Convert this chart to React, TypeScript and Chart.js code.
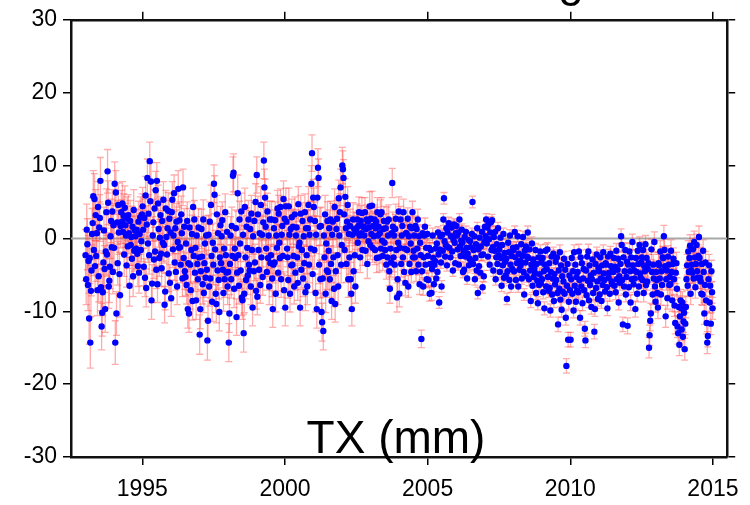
import React, { useEffect, useRef } from 'react';
import { Chart, registerables } from 'chart.js';

Chart.register(...registerables);

// Sample years; each year holds 48 samples, evenly spaced through the year
const YEARS = [1993, 1994, 1995, 1996, 1997, 1998, 1999, 2000, 2001, 2002, 2003, 2004, 2005, 2006, 2007, 2008, 2009, 2010, 2011, 2012, 2013, 2014];
const X_TICKS = [1995, 2000, 2005, 2010, 2015];
const Y_TICKS = [-30, -20, -10, 0, 10, 20, 30];
const TITLE = 'TX (mm)';

// TX values (mm) per year
const v1993 = [-2.3, -5.6, 1.2, -0.8, -6.4, -3.1, -11.0, -2.7, -14.3, -7.2, -4.4, 0.6, 2.1, 5.8, -1.6, 5.4, -3.8, 3.2, -2.4, 0.7, -7.1, 4.3, -5.2, 1.5, 2.8, 7.9, -6.7, -12.1, -10.2, -7.4, -3.3, 1.1, -4.2, -9.7, -1.8, 3.6, -2.2, 9.2, 4.9, -6.6, -5.8, -3.9, 0.3, 2.4, -1.2, 3.7, -4.6, 1.8];
const v1994 = [-1.3, 7.5, -14.3, 6.3, -10.3, 2.2, -3.4, 4.6, 0.8, -4.9, -7.8, 1.7, 3.6, 2.3, 4.8, 0.9, 3.1, -2.2, 4.2, 1.8, 0.4, -3.7, 2.7, -1.1, 3.2, 0.7, -6.5, 2.4, -0.9, 0.2, -2.8, 1.6, -5.2, 3.9, -1.7, 1.1, 0.3, -1.4, 1.2, -2.1, -3.8, 2.3, -4.7, 0.6, 2.9, -1.6, -0.4, 3.3];
const v1995 = [4.4, 1.2, -3.9, 2.8, -5.4, 5.9, -6.8, 1.9, 8.3, -0.7, 3.4, -2.3, 10.6, 5.1, 7.8, -8.5, -6.2, 0.4, 2.2, -2.9, 4.1, -1.8, 6.6, -4.3, 7.9, -6.3, 4.8, 1.3, -2.7, 0.1, 3.2, -2.1, -4.1, 2.4, -0.6, 5.3, -0.9, -9.1, -7.3, 4.1, 0.2, -2.2, 1.4, 3.8, -4.8, 2.7, -6.1, 0.8];
const v1996 = [-8.2, 3.6, 5.3, -1.5, 0.4, 6.2, -3.3, 1.4, -4.6, 2.3, -6.6, -0.5, 6.8, -1.3, 2.5, -1.2, -3.6, 3.3, 0.7, -5.5, 7.0, -2.7, 1.6, -4.5, -5.3, -0.7, -6.4, 2.4, -9.7, -3.4, -10.3, 1.5, -3.6, -7.1, -1.6, 0.6, -8.6, 4.3, -2.4, 2.6, -4.7, -1.3, -8.5, 0.4, -3.5, -5.6, 1.5, -2.6];
const v1997 = [-13.2, -9.7, -4.5, 1.3, -2.5, -6.3, 2.6, -7.5, -3.4, -0.7, -5.4, 0.4, -4.3, -14.0, -11.3, 0.5, -6.6, 2.3, -5.5, 4.6, -2.4, -8.7, -0.6, -3.6, 7.5, 6.0, -1.5, -7.6, -9.0, 3.3, -4.4, 0.7, -5.7, -10.1, -2.6, 1.8, -3.4, 0.3, 2.5, -4.3, -7.5, -1.4, -5.6, 3.6, -2.3, -4.7, 0.9, -6.6];
const v1998 = [-4.6, -14.3, -10.3, -3.5, 0.4, -5.6, 1.7, -2.4, 8.6, 9.0, -6.9, -1.4, -2.7, 1.4, -10.8, -4.7, 6.2, -2.3, -6.5, 2.6, -0.7, -4.4, 3.7, -8.1, -8.5, 0.5, -13.0, -7.6, 4.3, -2.6, -5.7, 1.6, -1.3, -5.1, 2.6, -3.6, -4.4, 1.3, -6.6, 3.4, -1.6, -9.5, 0.3, -4.5, 2.4, -3.3, 5.0, -7.2];
const v1999 = [8.7, -8.0, 3.3, -1.6, -4.3, 0.7, -6.4, 4.6, -2.6, 0.5, -5.3, 2.2, 10.7, 7.0, 5.6, 1.6, -1.4, -4.6, 3.7, -2.7, 0.4, -6.6, 2.6, -3.4, -2.3, 2.6, -5.5, -9.7, -3.6, 1.4, -3.3, 2.5, -7.6, 0.4, -1.3, 4.1, -4.7, 3.4, -0.6, -2.7, 4.3, -5.6, 0.5, 1.7, -2.4, 5.4, -7.1, 2.7];
const v2000 = [-9.5, 4.4, 2.3, -1.4, -2.6, -5.7, 4.4, 0.5, -7.6, 1.3, -3.7, 2.9, -3.6, 1.6, -2.4, -6.6, 3.3, -4.7, 0.4, 1.5, -2.6, -6.1, 4.7, -1.1, -0.6, -9.5, 3.4, -4.3, -1.6, 2.4, -5.5, 0.3, -3.4, 3.6, -7.4, 1.4, -2.3, -6.6, 1.4, 4.6, -3.6, 0.5, 2.6, -1.4, 7.5, 11.7, -4.9, 5.6];
const v2001 = [4.3, -1.6, 2.4, -7.5, 0.5, -9.7, 5.6, 9.7, 8.3, -3.6, 1.6, -5.6, 1.7, -10.1, -11.5, -5.5, -12.7, 0.4, -2.6, 3.3, -7.6, -0.7, -4.4, 2.4, -4.6, -1.7, 1.4, -5.6, 2.6, -3.5, -8.6, 0.5, 2.3, -2.6, -6.9, 4.3, -9.0, -4.5, 1.3, 2.7, -2.3, -6.6, 5.5, 0.4, 3.6, 7.0, -3.6, -0.9];
const v2002 = [10.0, 9.5, 8.3, 3.3, -1.6, 5.7, 1.4, -3.5, 2.3, 4.6, -5.6, 0.6, -2.6, 1.7, -5.6, -7.6, -9.7, 0.5, 2.6, -4.5, 1.3, -2.3, -6.6, 0.8, 1.4, 2.6, -0.6, 1.7, 3.6, 0.4, -2.6, 2.4, 0.7, 3.5, -1.6, 1.6, 1.6, 0.4, 3.6, -1.7, 1.3, 2.6, -3.5, 2.3, -0.4, 1.5, 4.4, -0.9];
const v2003 = [2.7, 0.6, 4.5, -1.3, 1.7, 0.3, 2.6, -1.6, 1.4, 2.3, -2.7, 3.6, 0.4, 1.6, -2.6, 0.7, 3.3, -1.4, 3.6, -0.3, -2.4, 1.3, 2.4, -0.6, -1.6, 1.4, -3.6, 2.3, -2.6, 0.4, 2.6, -4.5, -6.9, -1.4, -3.3, 0.7, 7.6, 1.6, -2.6, 0.4, -3.6, 1.3, 2.7, -1.6, -8.1, -5.6, -0.6, 3.7];
const v2004 = [-7.6, -1.3, 2.6, -3.5, 0.4, 1.7, -2.6, 3.6, -4.6, -1.4, -6.1, 0.7, 0.7, -1.6, 2.7, -6.6, 0.3, -3.5, 1.6, -0.7, -4.6, 1.4, 3.6, -2.6, -1.7, 0.4, -2.6, 1.7, -4.5, 1.3, -1.4, 2.6, -3.6, 0.3, -6.3, -0.6, -2.3, -13.8, -4.5, 0.7, -6.6, -2.6, 0.4, 1.6, -3.6, -1.3, -5.6, 0.6];
const v2005 = [-2.4, -5.7, -1.3, -7.6, -3.5, -1.6, -7.5, -4.2, 0.4, -2.7, -6.3, -3.6, -3.1, -1.4, -5.5, -0.7, -4.6, 0.8, -2.2, -8.8, -1.5, 0.3, -3.3, -6.6, 0.5, -1.7, 2.6, 5.5, -0.4, -2.5, -0.9, 1.4, -3.7, 0.8, -1.2, 2.1, -1.3, 1.6, -2.6, 0.3, 1.5, -1.8, -4.4, -0.2, 1.9, -0.6, -3.4, 0.7];
const v2006 = [1.7, 0.4, -1.5, 0.8, -3.6, 2.6, -1.1, -2.4, -0.3, 1.2, -0.6, -4.6, -1.7, -4.3, 0.2, -2.5, 0.9, -1.3, -5.5, -2.1, -0.2, -3.7, -2.8, -0.4, -1.2, -3.1, 0.6, 5.0, -3.5, -1.6, 0.3, -5.6, -2.7, -0.8, -4.4, 1.4, -7.5, -1.5, -3.8, 0.1, -4.7, -1.1, -2.3, 0.9, -6.7, -2.2, -5.2, -0.5];
const v2007 = [1.6, 0.3, 2.6, -0.7, 1.5, -2.5, 2.0, -0.1, -3.6, 0.8, 2.2, -1.6, 2.5, -1.2, -4.4, 0.2, -1.7, 0.9, -5.6, -2.6, -0.8, -3.5, 1.4, -2.3, -1.5, -4.6, 0.1, -2.7, -6.5, -0.9, -3.7, 0.6, -5.4, -2.0, -3.2, -5.1, -2.8, -8.3, -4.5, -0.6, -1.9, -5.7, 0.4, -3.6, -6.6, -2.4, -4.2, -1.3];
const v2008 = [-1.6, -4.5, 0.9, -2.6, -5.7, -1.2, -3.4, 0.3, -6.6, -2.1, -4.3, -3.1, -3.7, -0.8, -5.5, -2.4, 0.2, -4.6, -7.7, -1.7, -3.3, -1.1, -5.2, -2.5, 0.8, -2.7, -5.6, -1.5, -4.4, -8.6, -3.6, -0.7, -6.5, -2.9, -5.3, -4.1, -4.7, -1.6, -7.5, -3.5, -5.8, -8.9, -2.6, -6.4, -4.9, -1.8, -6.2, -3.3];
const v2009 = [-5.6, -2.7, -7.4, -4.5, -9.6, -3.6, -1.7, -6.6, -4.2, -1.5, -5.3, -7.2, -3.4, -6.8, -9.9, -4.6, -2.5, -7.7, -5.5, -2.1, -8.6, -4.9, -6.3, -3.2, -5.7, -2.6, -7.5, -11.8, -4.4, -6.9, -1.9, -8.4, -3.7, -9.8, -5.2, -7.3, -5.9, -2.8, -7.6, -4.3, -10.9, -17.5, -6.5, -3.5, -13.9, -8.7, -5.1, -7.1];
const v2010 = [-13.9, -5.6, -2.7, -7.6, -4.5, -9.9, -1.9, -6.5, -3.6, -8.7, -5.3, -7.2, -4.6, -7.4, -1.8, -5.7, -10.9, -2.6, -6.6, -3.4, -8.9, -5.5, -4.2, -7.1, -12.4, -14.0, -4.4, -7.8, -2.5, -5.8, -1.8, -8.5, -3.7, -6.4, -5.1, -9.4, -5.6, -2.9, -7.5, -4.7, -12.8, -9.7, -3.5, -6.8, -2.2, -5.9, -8.3, -4.1];
const v2011 = [-4.5, -7.7, -2.6, -5.5, -8.6, -3.7, -6.4, -1.9, -4.8, -5.7, -7.3, -3.4, -3.6, -6.7, -9.6, -2.5, -5.4, -4.7, -7.6, -2.1, -3.8, -5.9, -6.3, -4.4, -4.6, -2.7, -6.5, -3.9, -7.4, -1.7, -5.6, -4.3, -2.8, -8.8, -5.2, -6.1, -3.5, 0.3, -0.9, -5.7, -11.8, -2.6, -6.6, -4.5, -1.6, -7.7, -5.3, -3.2];
const v2012 = [-12.0, -3.6, -6.7, -1.8, -4.5, -8.8, -2.6, -5.6, -0.5, -3.7, -6.3, -4.4, -5.5, -9.7, -2.7, -4.6, -7.6, -1.7, -3.5, -6.6, -0.9, -4.8, -5.4, -3.3, -2.6, -5.7, -1.6, -7.5, -3.8, -4.5, -0.8, -6.4, -2.7, -5.9, -4.2, -3.4, -15.0, -13.3, -11.3, -10.3, -1.5, -4.6, -7.7, -3.6, -5.5, -0.5, -6.6, -8.7];
const v2013 = [-4.6, -5.7, -7.5, -9.5, -3.4, -3.7, -5.5, -1.8, -7.7, -4.5, -6.4, -2.6, -2.7, 0.3, -1.6, -3.8, -10.7, -5.6, -4.4, -8.2, -2.5, -3.6, -6.4, -5.3, -6.3, -1.7, -4.6, -8.5, -3.5, -2.8, -5.6, -9.2, -11.6, -4.7, -3.4, -6.9, -12.1, -13.0, -9.4, -14.6, -10.7, -8.5, -9.6, -12.5, -8.8, -13.5, -11.4, -10.2];
const v2014 = [-15.2, -11.7, -9.4, -5.6, -3.7, -6.5, -1.8, -4.6, -2.7, -1.0, -7.6, -4.4, -3.6, -4.7, -1.5, -5.5, -0.5, -2.6, -6.7, -3.5, -0.9, -4.5, -5.4, -2.4, 0.2, -2.7, -5.4, -5.9, -7.6, -3.5, -7.7, -1.7, -4.6, -10.3, -6.4, -3.3, -8.5, -11.6, -14.3, -13.4, -5.6, -3.7, -8.8, -6.5, -11.7, -4.5, -7.4, -9.6];

const VALUES = [v1993, v1994, v1995, v1996, v1997, v1998, v1999, v2000, v2001, v2002, v2003, v2004, v2005, v2006, v2007, v2008, v2009, v2010, v2011, v2012, v2013, v2014];

// One-sigma error (mm) for each quarter of each year
const QUARTER_ERRORS = [
  [3.5, 3.5, 3.2, 3], [3, 3, 2.8, 2.8], [2.6, 2.6, 2.5, 2.5], [2.5, 2.5, 2.6, 2.6],
  [2.7, 2.7, 2.6, 2.5], [2.6, 2.5, 2.6, 2.5], [2.5, 2.5, 2.5, 2.5], [2.5, 2.4, 2.5, 2.5],
  [2.6, 2.6, 2.5, 2.5], [2.5, 2.3, 2.1, 2], [2, 2, 2, 2], [1.8, 1.5, 1.4, 1.2],
  [1, 0.8, 0.8, 0.8], [0.8, 0.8, 0.8, 0.8], [0.8, 0.8, 0.8, 0.8], [0.8, 0.8, 0.9, 0.9],
  [0.9, 0.9, 1, 1], [1, 1, 1, 1], [1, 1, 1, 1], [1.1, 1.1, 1.2, 1.4],
  [1.5, 1.5, 1.5, 1.5], [1.5, 1.5, 1.5, 1.5],
];

const FONT = '"Liberation Sans", Arial, Helvetica, sans-serif';

function buildPoints() {
  const pts: { x: number; y: number; e: number }[] = [];
  YEARS.forEach((yr, k) => {
    const vals = VALUES[k];
    vals.forEach((v, i) => {
      pts.push({ x: yr + (i + 0.5) / vals.length, y: v, e: QUARTER_ERRORS[k][Math.floor((i * 4) / vals.length)] });
    });
  });
  return pts;
}

const zeroLine = {
  id: 'zeroLine',
  beforeDatasetsDraw(chart: any) {
    const { ctx, chartArea, scales } = chart;
    const y = scales.y.getPixelForValue(0);
    ctx.save();
    ctx.strokeStyle = '#a8a8a8';
    ctx.lineWidth = 2;
    ctx.beginPath();
    ctx.moveTo(chartArea.left, y);
    ctx.lineTo(chartArea.right, y);
    ctx.stroke();
    ctx.restore();
  },
};

const errorBars = {
  id: 'errorBars',
  beforeDatasetsDraw(chart: any) {
    const { ctx, scales } = chart;
    const ds = chart.data.datasets[0];
    const meta = chart.getDatasetMeta(0);
    ctx.save();
    ctx.strokeStyle = 'rgba(255, 70, 70, 0.45)';
    ctx.lineWidth = 1.3;
    meta.data.forEach((el: any, i: number) => {
      const d = ds.data[i];
      const x = el.x;
      const y1 = scales.y.getPixelForValue(d.y - d.e);
      const y2 = scales.y.getPixelForValue(d.y + d.e);
      ctx.beginPath();
      ctx.moveTo(x, y1);
      ctx.lineTo(x, y2);
      ctx.moveTo(x - 3.5, y1);
      ctx.lineTo(x + 3.5, y1);
      ctx.moveTo(x - 3.5, y2);
      ctx.lineTo(x + 3.5, y2);
      ctx.stroke();
    });
    ctx.restore();
  },
};

const texts = {
  id: 'texts',
  afterDraw(chart: any) {
    const { ctx } = chart;
    ctx.save();
    ctx.fillStyle = '#000';
    ctx.font = `46px ${FONT}`;
    ctx.textAlign = 'center';
    ctx.textBaseline = 'alphabetic';
    ctx.fillText(TITLE, 396, 453);
    ctx.fillText('g', 571, -4);
    ctx.restore();
  },
};

const tickFont = { family: FONT, size: 23 };

export default function App() {
  const ref = useRef<HTMLCanvasElement | null>(null);
  useEffect(() => {
    if (!ref.current) return;
    const setX = (s: any) => {
      s.ticks = X_TICKS.map((v) => ({ value: v }));
    };
    const setY = (s: any) => {
      s.ticks = Y_TICKS.map((v) => ({ value: v }));
    };
    const grid = { drawOnChartArea: false, drawTicks: true, tickLength: 8, color: '#000', lineWidth: 1.5 };
    const border = { display: true, color: '#111', width: 2.5 };
    const chart = new Chart(ref.current, {
      type: 'scatter',
      data: {
        datasets: [
          {
            data: buildPoints(),
            backgroundColor: '#0000ff',
            borderWidth: 0,
            pointRadius: 3.2,
          } as any,
        ],
      },
      options: {
        animation: false,
        responsive: false,
        maintainAspectRatio: false,
        layout: { padding: 0 },
        plugins: { legend: { display: false }, tooltip: { enabled: false }, title: { display: false } },
        scales: {
          x: {
            type: 'linear', position: 'bottom', min: 1992.5, max: 2015.5,
            afterBuildTicks: setX,
            afterFit: (s: any) => { s.height = 48; },
            grid, border,
            ticks: { color: '#000', font: tickFont, padding: 11, maxRotation: 0, autoSkip: false, callback: (v: any) => String(v) },
          },
          xTop: {
            type: 'linear', position: 'top', min: 1992.5, max: 2015.5,
            afterBuildTicks: setX,
            afterFit: (s: any) => { s.height = 17; },
            grid, border,
            ticks: { display: false },
          },
          y: {
            type: 'linear', position: 'left', min: -30, max: 30,
            afterBuildTicks: setY,
            afterFit: (s: any) => { s.width = 71; },
            grid, border,
            ticks: { color: '#000', font: tickFont, padding: 6, callback: (v: any) => String(v) },
          },
          yRight: {
            type: 'linear', position: 'right', min: -30, max: 30,
            afterBuildTicks: setY,
            afterFit: (s: any) => { s.width = 16; },
            grid, border,
            ticks: { display: false },
          },
        } as any,
      },
      plugins: [zeroLine, errorBars, texts],
    });
    return () => chart.destroy();
  }, []);
  return (
    <div style={{ position: 'absolute', left: 0, top: 0, width: 750, height: 505, background: '#fff' }}>
      <canvas ref={ref} width={750} height={505} />
    </div>
  );
}
